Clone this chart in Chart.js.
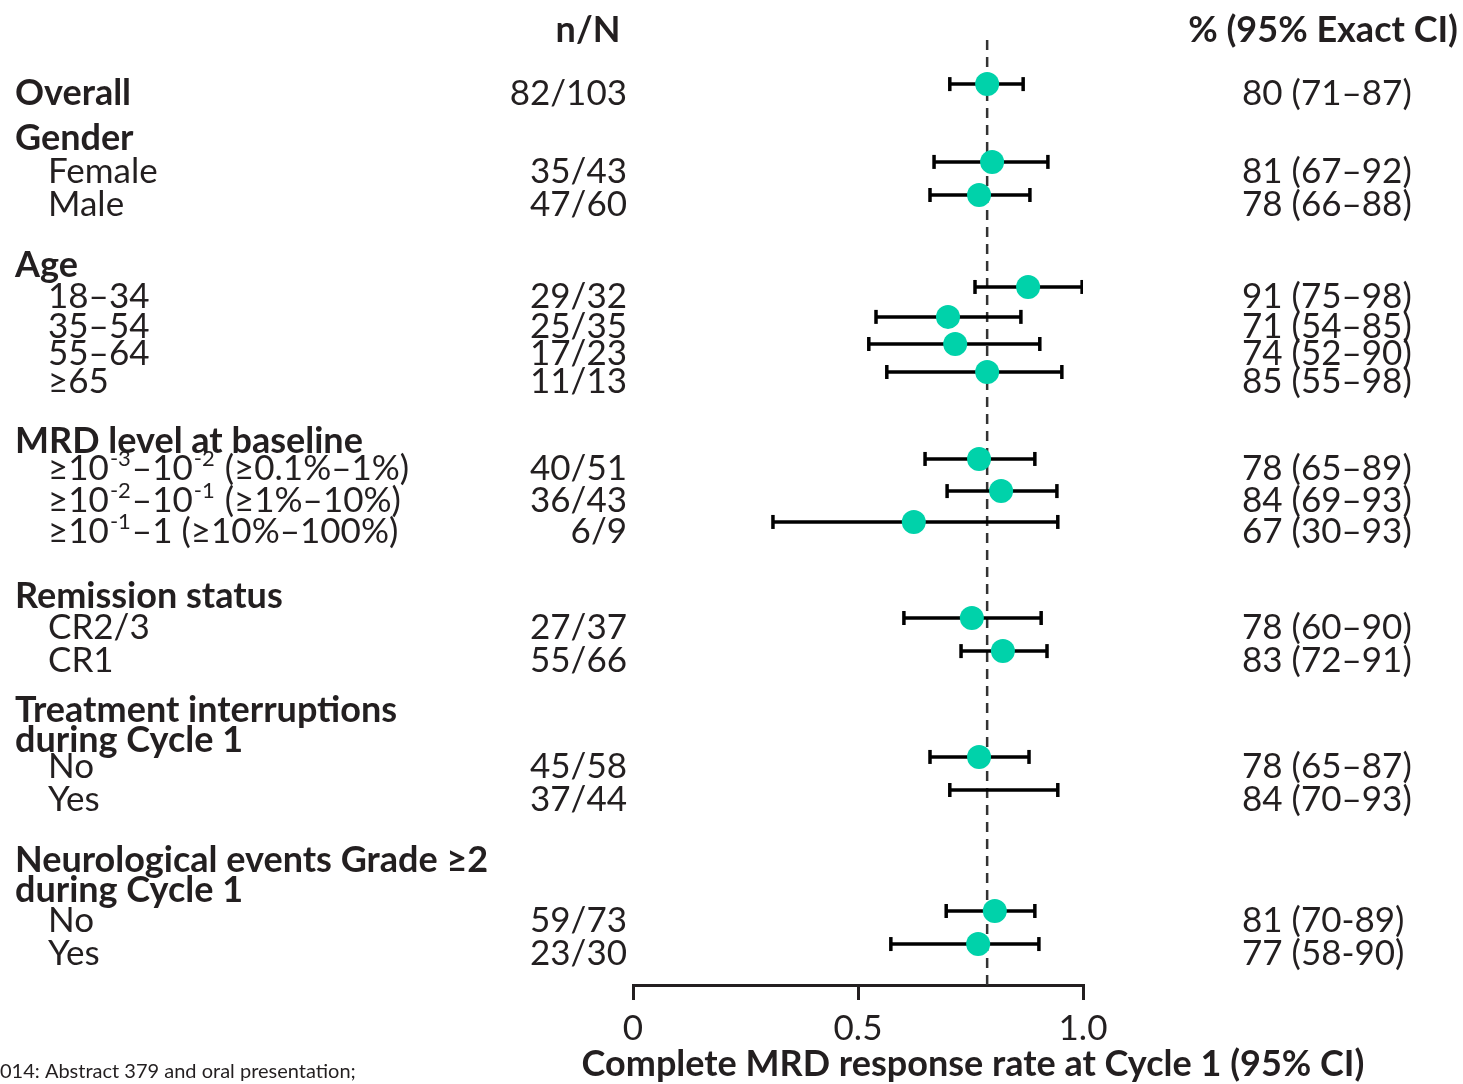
<!DOCTYPE html>
<html>
<head>
<meta charset="utf-8">
<script src="https://cdn.jsdelivr.net/npm/chart.js@4.4.1/dist/chart.umd.min.js"></script>
<style>
  html, body { margin: 0; padding: 0; background: #fff; }
</style>
</head>
<body>
<canvas id="forest" width="1463" height="1084"></canvas>
<script>
/* ===== data ===== */
const rowLabels = ['Overall', 'Female', 'Male', '18–34', '35–54', '55–64', '≥65',
    '≥10^{-3}–10^{-2} (≥0.1%–1%)', '≥10^{-2}–10^{-1} (≥1%–10%)', '≥10^{-1}–1 (≥10%–100%)',
    'CR2/3', 'CR1', 'No', 'Yes', 'No', 'Yes'];

// slot of each row on the (hidden) vertical axis
const rowPos = [1.40, 3.87, 4.92, 7.84, 8.79, 9.65, 10.54, 13.30, 14.32, 15.30,
    18.35, 19.40, 22.76, 23.81, 27.65, 28.70];

const nOverN = ['82/103', '35/43', '47/60', '29/32', '25/35', '17/23', '11/13',
    '40/51', '36/43', '6/9', '27/37', '55/66', '45/58', '37/44', '59/73', '23/30'];

const pctCI = ['80 (71–87)', '81 (67–92)', '78 (66–88)', '91 (75–98)', '71 (54–85)',
    '74 (52–90)', '85 (55–98)', '78 (65–89)', '84 (69–93)', '67 (30–93)',
    '78 (60–90)', '83 (72–91)', '78 (65–87)', '84 (70–93)', '81 (70-89)', '77 (58-90)'];

// plotted estimates (one marker is missing in the source)
const rate = [0.787, 0.798, 0.769, 0.878, 0.700, 0.716, 0.787, 0.769, 0.818, 0.624,
    0.753, 0.822, 0.769, null, 0.804, 0.767];
const ciLow = [0.704, 0.669, 0.660, 0.760, 0.540, 0.524, 0.564, 0.649, 0.698, 0.311,
    0.602, 0.729, 0.660, 0.704, 0.696, 0.573];
const ciHigh = [0.867, 0.922, 0.882, 0.998, 0.862, 0.904, 0.953, 0.893, 0.942, 0.944,
    0.907, 0.920, 0.880, 0.944, 0.893, 0.902];

const groupHeaders = ['Gender', 'Age', 'MRD level at baseline', 'Remission status',
    'Treatment interruptions', 'during Cycle 1', 'Neurological events Grade ≥2', 'during Cycle 1'];
const groupPos = [2.83, 6.86, 12.44, 17.37, 20.98, 21.94, 25.75, 26.70];

const refRate = 0.787;
const xTicks = [0, 0.5, 1.0];

/* ===== styling ===== */
const FONT = 'Lato';
const INK = '#231f20';
const TEAL = '#00d2aa';
const SIZE = 35;
const BOLD = 36;

function drawRich(ctx, str, x, y, size, weight) {
    const parts = str.split(/(\^\{[^}]*\})/);
    let cx = x;
    parts.forEach(p => {
        if (!p) return;
        if (p.startsWith('^{')) {
            const t = p.slice(2, -1);
            ctx.font = `${weight} ${Math.round(size * 0.62)}px ${FONT}`;
            ctx.fillText(t, cx + 1, y - size * 0.4);
            cx += ctx.measureText(t).width + 2;
        } else {
            ctx.font = `${weight} ${size}px ${FONT}`;
            ctx.fillText(p, cx, y);
            cx += ctx.measureText(p).width;
        }
    });
}

const textPlugin = {
    id: 'forestText',
    afterDraw(chart) {
        const ctx = chart.ctx;
        const y = chart.scales.y;
        const area = chart.chartArea;
        ctx.save();
        ctx.fillStyle = INK;
        ctx.textBaseline = 'alphabetic';

        // column headers
        ctx.font = `bold ${BOLD}px ${FONT}`;
        ctx.textAlign = 'center';
        ctx.fillText('n/N', 588, 42);
        ctx.textAlign = 'right';
        ctx.fillText('% (95% Exact CI)', 1458, 42);

        // group headers
        ctx.textAlign = 'left';
        groupHeaders.forEach((h, i) => {
            ctx.font = `bold ${BOLD}px ${FONT}`;
            ctx.fillText(h, 15, y.getPixelForValue(groupPos[i]) + 21);
        });

        // rows
        rowLabels.forEach((lab, i) => {
            const base = y.getPixelForValue(rowPos[i]) + 21;
            ctx.textAlign = 'left';
            if (i === 0) drawRich(ctx, lab, 15, base, BOLD, 'bold');
            else drawRich(ctx, lab, 48, base, SIZE, 'normal');

            ctx.font = `normal ${SIZE}px ${FONT}`;
            ctx.textAlign = 'right';
            ctx.fillText(nOverN[i], area.left - 6, base);
            ctx.textAlign = 'left';
            ctx.fillText(pctCI[i], 1242, base);
        });

        // axis title
        ctx.font = `bold ${BOLD}px ${FONT}`;
        ctx.textAlign = 'center';
        ctx.fillText('Complete MRD response rate at Cycle 1 (95% CI)', 973, 1076);

        // cut-off footnote
        ctx.font = `normal 20px ${FONT}`;
        ctx.textAlign = 'left';
        ctx.fillText('014: Abstract 379 and oral presentation;', 0, 1078);
        ctx.restore();
    }
};

/* ===== datasets ===== */
const pointData = [];
rate.forEach((r, i) => {
    if (r !== null) pointData.push({ x: r, y: rowPos[i] });
});

const ciSets = rowPos.map((p, i) => ({
    type: 'line',
    order: 1,
    data: [{ x: ciLow[i], y: p }, { x: ciHigh[i], y: p }],
    borderColor: '#000',
    borderWidth: 3.5,
    pointStyle: 'line',
    pointRotation: 90,
    pointRadius: 7,
    pointBorderWidth: 3.5,
    pointBorderColor: '#000'
}));

new Chart(document.getElementById('forest'), {
    type: 'scatter',
    data: {
        datasets: [
            {
                order: 0,
                data: pointData,
                pointRadius: 12,
                backgroundColor: TEAL,
                borderWidth: 0
            },
            ...ciSets,
            {
                type: 'line',
                order: 2,
                data: [{ x: refRate, y: 0 }, { x: refRate, y: 30 }],
                borderColor: '#333',
                borderWidth: 2.5,
                borderDash: [10, 7],
                pointRadius: 0
            }
        ]
    },
    options: {
        responsive: false,
        animation: false,
        events: [],
        layout: { padding: { left: 633, right: 380, top: 40, bottom: 39 } },
        plugins: { legend: { display: false }, tooltip: { enabled: false } },
        scales: {
            x: {
                type: 'linear',
                min: 0,
                max: 1,
                afterBuildTicks: s => { s.ticks = xTicks.map(v => ({ value: v })); },
                afterFit: s => { s.height = 60; },
                ticks: {
                    callback: v => v === 0 ? '0' : v.toFixed(1),
                    font: { family: FONT, size: SIZE },
                    color: INK,
                    padding: 8,
                    maxRotation: 0
                },
                grid: {
                    display: true,
                    drawOnChartArea: false,
                    drawTicks: true,
                    tickLength: 15,
                    color: INK,
                    lineWidth: 3
                },
                border: { display: true, color: INK, width: 3 }
            },
            y: {
                type: 'linear',
                min: 0,
                max: 30,
                reverse: true,
                display: false
            }
        }
    },
    plugins: [textPlugin]
});
</script>
</body>
</html>
